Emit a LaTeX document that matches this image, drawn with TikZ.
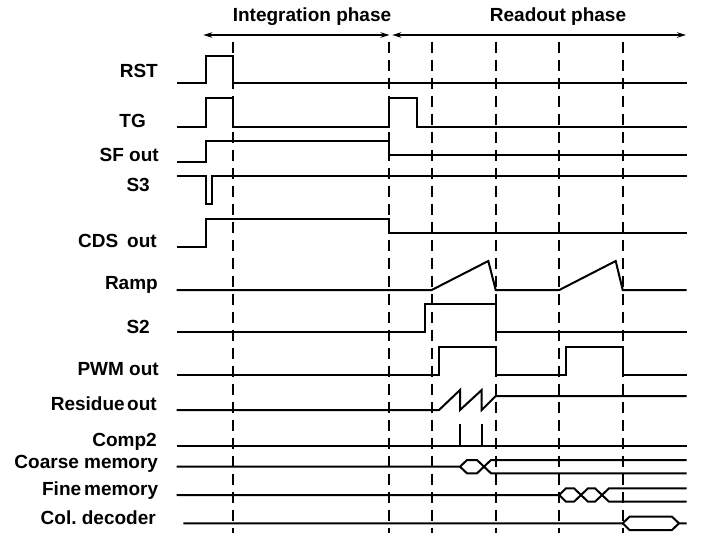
\documentclass[tikz,border=0pt]{standalone}
\usepackage{fontspec}
\setmainfont{Liberation Sans}
\usetikzlibrary{arrows.meta}
\frenchspacing
\begin{document}
\begin{tikzpicture}[x=1pt,y=-1pt,
  sig/.style={line width=2pt,line join=miter},
  guide/.style={line width=2pt,dash pattern=on 11.5pt off 6.5pt},
  phase/.style={line width=1.6pt},
  lbl/.style={anchor=base east,inner sep=0pt,font=\fontsize{19}{22}\selectfont\bfseries},
  ttl/.style={anchor=base,inner sep=0pt,font=\fontsize{19}{22}\selectfont\bfseries}]
\useasboundingbox (0,0) rectangle (709,533);
% phase arrows
\node[ttl] (tint) at (312,21.7) {Integration phase};
\node[ttl] (tread) at (558,21.7) {Readout phase};
\coordinate (a1) at (203.3,35);
\coordinate (a2) at (389.5,35);
\coordinate (a3) at (392.3,35);
\coordinate (a4) at (686,35);
\draw[phase,{Stealth[length=9pt,width=5.5pt]}-{Stealth[length=9pt,width=5.5pt]}] (a1) -- (a2);
\draw[phase,{Stealth[length=9pt,width=5.5pt]}-{Stealth[length=9pt,width=5.5pt]}] (a3) -- (a4);
% dashed guides
\foreach \x in {233.3,389,431.7,495.7,559.3,622.7}
  \draw[guide] (\x,41.7) -- (\x,533);
% labels
\node[lbl] (lrst) at (158,77.3) {RST};
\node[lbl] (ltg) at (146,127.3) {TG};
\node[lbl] (lsf) at (159,161.7) {SF out};
\node[lbl] (ls3) at (150,191) {S3};
\node[lbl] (lcds) at (157,247.8) {CDS\hspace{9pt}out};
\node[lbl] (lramp) at (158,289.7) {Ramp};
\node[lbl] (ls2) at (150,333.3) {S2};
\node[lbl] (lpwm) at (159,375.3) {PWM out};
\node[lbl] (lres) at (157,410.3) {Residue\hspace{2.5pt}out};
\node[lbl] (lcomp) at (157,446) {Comp2};
\node[lbl] (lcoarse) at (158.3,468.5) {Coarse memory};
\node[lbl] (lfine) at (158.3,495.5) {Fine\hspace{3pt}memory};
\node[lbl] (lcol) at (156,524.5) {Col. decoder};
% RST
\draw[sig] (176.7,83.3) -- (205.7,83.3) -- (205.7,55.7) -- (233.3,55.7) -- (233.3,83.3) -- (686.7,83.3);
% TG
\draw[sig] (176.7,126.7) -- (205.7,126.7) -- (205.7,98.3) -- (233.3,98.3) -- (233.3,126.7) -- (389,126.7) -- (389,98.3) -- (417.3,98.3) -- (417.3,126.7) -- (686.7,126.7);
% SF out
\draw[sig] (176.7,162) -- (205.7,162) -- (205.7,141) -- (389,141) -- (389,155) -- (686.7,155);
% S3
\draw[sig] (176.7,176) -- (205.7,176) -- (205.7,204.3) -- (212.3,204.3) -- (212.3,176) -- (686.7,176);
% CDS out
\draw[sig] (176.7,247.3) -- (205.7,247.3) -- (205.7,219.3) -- (389,219.3) -- (389,232.7) -- (686.7,232.7);
% Ramp
\draw[sig] (176.7,290) -- (431.7,290) -- (488.3,261) -- (495.7,290) -- (559.3,290) -- (615.7,261) -- (622.7,290) -- (686.7,290);
% S2
\draw[sig] (176.7,332.3) -- (425,332.3) -- (425,304) -- (495.7,304) -- (495.7,332.3) -- (686.7,332.3);
% PWM out
\draw[sig] (176.7,375) -- (439.3,375) -- (439.3,346.7) -- (495.7,346.7) -- (495.7,375) -- (565.7,375) -- (565.7,346.7) -- (622.7,346.7) -- (622.7,375) -- (686.7,375);
% Residue out
\draw[sig] (176.7,410) -- (439,410) -- (460,390) -- (460,410) -- (481.7,390) -- (481.7,410) -- (495.7,396) -- (686.7,396);
% Comp2
\draw[sig] (176.7,445.7) -- (686.7,445.7);
\draw[sig] (460,445.7) -- (460,424);
\draw[sig] (481.7,445.7) -- (481.7,424);
% Coarse memory
\draw[sig] (176.7,466.7) -- (460,466.7) -- (467,460) -- (477,460) -- (491,473.3) -- (686.7,473.3);
\draw[sig] (460,466.7) -- (467,473.3) -- (477,473.3) -- (491,460) -- (686.7,460);
% Fine memory
\draw[sig] (176.7,495) -- (559.3,495) -- (566,488.3) -- (574,488.3) -- (588,501.7) -- (595,501.7) -- (609,488.3) -- (686.7,488.3);
\draw[sig] (559.3,495) -- (566,501.7) -- (574,501.7) -- (588,488.3) -- (595,488.3) -- (609,501.7) -- (686.7,501.7);
% Col. decoder
\draw[sig] (183.3,523.3) -- (622.7,523.3) -- (629.5,516.7) -- (672,516.7) -- (679,523.3) -- (686.7,523.3);
\draw[sig] (622.7,523.3) -- (629.5,530) -- (672,530) -- (679,523.3);
\end{tikzpicture}
\end{document}
